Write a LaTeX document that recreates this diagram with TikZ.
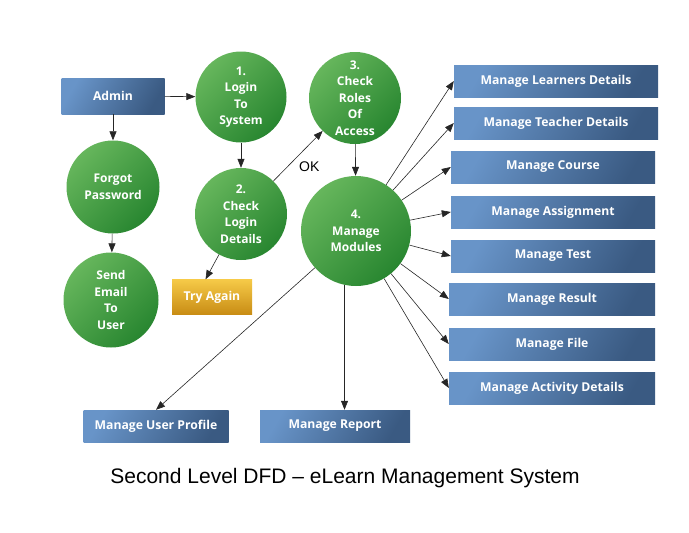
\documentclass[tikz,border=0pt]{standalone}
\usepackage{fontspec}
\setmainfont{Open Sans}
\newfontfamily\captionfont{Liberation Sans}
\usetikzlibrary{positioning, arrows.meta, calc}

\definecolor{boxlight}{RGB}{104,148,200}
\definecolor{boxdark}{RGB}{58,90,130}
\definecolor{balllight}{RGB}{102,182,92}
\definecolor{balldark}{RGB}{40,134,48}
\definecolor{goldlight}{RGB}{246,202,72}
\definecolor{golddark}{RGB}{200,140,20}

\tikzset{
  process/.style={circle, inner sep=0pt, align=center, text=white,
    top color=balllight, bottom color=balldark, shading angle=45,
    font=\bfseries\fontsize{12}{16.5}\selectfont},
  entity/.style={rectangle, inner sep=2pt, text=white,
    top color=boxlight, bottom color=boxdark, shading angle=60,
    minimum height=32pt, font=\bfseries\fontsize{12.2}{14}\selectfont},
  retry/.style={entity, top color=goldlight, bottom color=golddark},
  flow/.style={-{Triangle[length=9pt,width=7pt]}, draw=black!85, line width=0.6pt}
}

\begin{document}
\begin{tikzpicture}[x=1pt, y=-1pt]
    \useasboundingbox (0,0) rectangle (689,533);

    % Place the nodes
    \node (admin) [entity, minimum width=103pt, minimum height=36pt] at (113,96) {Admin};
    \node (login) [process, minimum size=91pt] at (241,97) {1.\\Login\\To\\System};
    \node (roles) [process, minimum size=92pt] at (355,98) {3.\\Check\\Roles\\Of\\Access};
    \node (forgot) [process, minimum size=93pt] at (113,187) {Forgot\\Password};
    \node (check) [process, minimum size=92pt] at (241,214) {2.\\Check\\Login\\Details};
    \node (modules) [process, minimum size=110pt] at (356,231) {4.\\Manage\\Modules};
    \node (email) [process, minimum size=95pt] at (111,300) {Send\\Email\\To\\User};
    \node (again) [retry, minimum width=80pt, minimum height=35pt] at (212,297) {Try Again};

    \node (learners) [entity, minimum width=204pt] at (556,81) {Manage Learners Details};
    \node (teacher) [entity, minimum width=204pt] at (556,123) {Manage Teacher Details};
    \node (course) [entity, minimum width=204pt] at (553,167) {Manage Course};
    \node (assign) [entity, minimum width=204pt] at (553,212) {Manage Assignment};
    \node (test) [entity, minimum width=204pt] at (553,256) {Manage Test};
    \node (result) [entity, minimum width=206pt] at (552,299) {Manage Result};
    \node (file) [entity, minimum width=206pt] at (552,344) {Manage File};
    \node (activity) [entity, minimum width=206pt] at (552,388) {Manage Activity Details};
    \node (profile) [entity, minimum width=145pt] at (156,426) {Manage User Profile};
    \node (report) [entity, minimum width=150pt] at (335,426) {Manage Report};

    \node (title) [font=\captionfont\fontsize{21}{25}\selectfont] at (345,478)
        {Second Level DFD – eLearn Management System};

    % Draw the flows
    \draw [flow] (admin) -- (login);
    \draw [flow] (admin) -- (forgot);
    \draw [flow] (forgot) -- (email);
    \draw [flow] (login) -- (check);
    \draw [flow] (check) -- node[pos=0.45, below right, font=\captionfont\fontsize{14}{16}\selectfont] {OK} (roles);
    \draw [flow] (check) -- (again.110);
    \draw [flow] (roles) -- (modules);

    \foreach \target in {learners, teacher, course, assign, test, result, file, activity}
        \draw [flow] (modules) -- (\target.west);

    \draw [flow] (modules) -- (profile.north);
    \draw [flow] (modules.258) -- (modules.258 |- report.north);
\end{tikzpicture}
\end{document}
